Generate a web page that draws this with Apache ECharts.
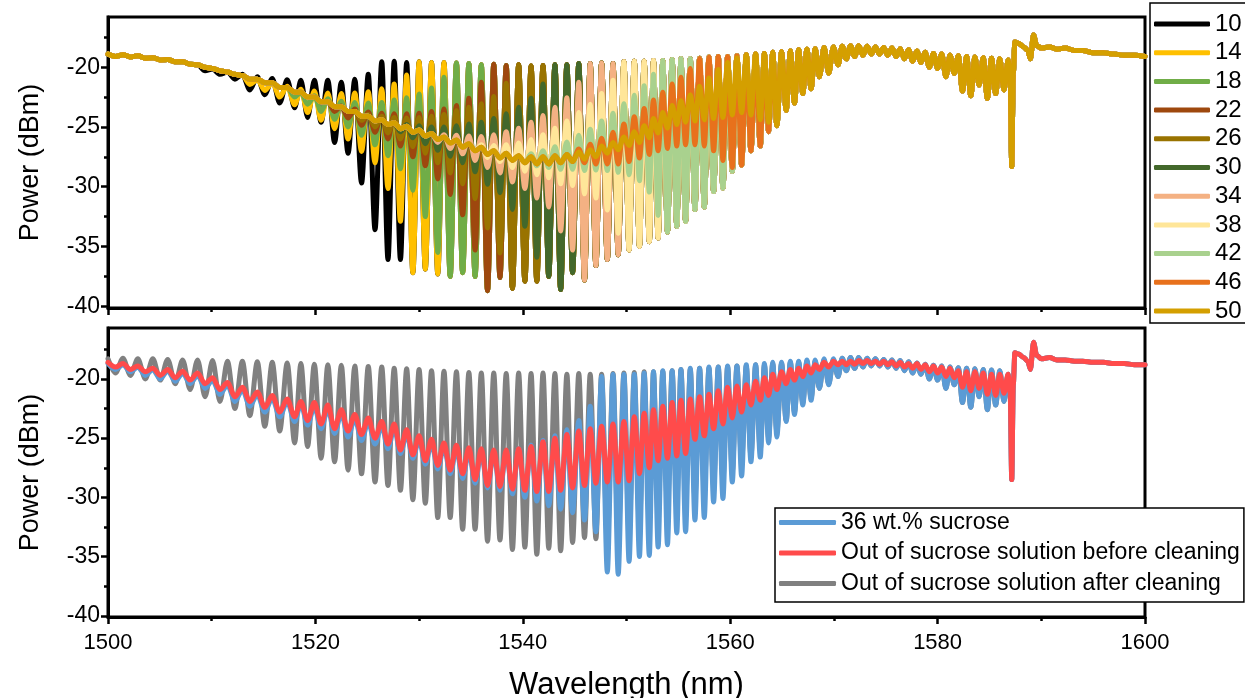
<!DOCTYPE html>
<html>
<head>
<meta charset="utf-8">
<script src="https://cdn.jsdelivr.net/npm/echarts@6/dist/echarts.min.js"></script>
<style>html,body{margin:0;padding:0;background:#fff;}#c{width:1245px;height:698px;}</style>
</head>
<body>
<div id="c"></div>
<script>
// ---- fringe grid (nm): peak and dip wavelengths ----
const peakNm = [1500.0,1501.44,1502.88,1504.32,1505.76,1507.2,1508.64,1510.08,1511.52,1512.96,1514.4,1515.84,1517.28,
1518.6,1519.9,1521.2,1522.5,1523.8,1525.1,1526.4,1527.6,1528.8,1530.0,1531.2,1532.4,1533.6,1534.8,1536.0,1537.2,1538.4,
1539.6,1540.8,1541.95,1543.1,1544.25,1545.4,1546.5,1547.6,1548.7,1549.75,1550.75,1551.7,1552.6,1553.5,1554.4,1555.25,
1556.15,1557.05,1557.95,1558.85,1559.75,1560.65,1561.55,1562.45,1563.3,1564.1,1564.95,1565.8,1566.6,1567.4,1568.2,1569.05,1569.95,
1570.8,1571.6,1572.4,1573.2,1574.0,1574.8,1575.6,1576.4,1577.2,1578.0,1578.8,1579.6,1580.4,1581.2,1582.0,1582.8,1583.6,1584.4,1585.2,1586.0];
const dipNm = [1500.72,1502.16,1503.6,1505.04,1506.48,1507.92,1509.36,1510.8,1512.24,1513.68,1515.12,1516.56,1518.0,
1519.25,1520.55,1521.85,1523.15,1524.45,1525.75,1527.0,1528.2,1529.4,1530.6,1531.8,1533.0,1534.2,1535.4,1536.6,1537.8,1539.0,
1540.2,1541.35,1542.5,1543.65,1544.8,1545.95,1547.05,1548.15,1549.2,1550.25,1551.25,1552.2,1553.05,1553.95,1554.85,1555.7,
1556.6,1557.5,1558.4,1559.3,1560.2,1561.1,1562.0,1562.9,1563.7,1564.5,1565.4,1566.2,1567.0,1567.8,1568.6,1569.5,1570.4,
1571.2,1572.0,1572.8,1573.6,1574.4,1575.2,1576.0,1576.8,1577.6,1578.4,1579.2,1580.0,1580.8,1581.6,1582.4,1583.2,1584.0,1584.8,1585.6,1586.4];
// end of the spectra (nm) and power (dBm)
const endNm = [1586.8,1587.0,1587.15,1587.3,1587.45,1587.8,1588.3,1588.7,1588.95,1589.25,1589.55,1590.0,1590.8,1591.5,1592.3,1593.2,1594.0,1595.0,1596.0,1597.0,1598.0,1599.0,1600.0];
const endTop = [-19.4,-21.0,-28.3,-20.5,-17.9,-18.0,-18.3,-18.6,-19.3,-17.3,-18.2,-18.4,-18.3,-18.5,-18.4,-18.6,-18.6,-18.8,-18.8,-18.9,-19.0,-19.0,-19.1];
const endBot = [-19.6,-21.2,-28.5,-20.5,-17.8,-17.9,-18.2,-18.5,-19.2,-16.9,-18.0,-18.3,-18.2,-18.4,-18.4,-18.5,-18.5,-18.6,-18.6,-18.7,-18.7,-18.8,-18.8];

// common high-contrast fringe levels (fringe 20 onward)
const deepPk = [-19.55,-19.5,-19.6,-19.55,-19.6,-19.6,-19.65,-19.7,-19.8,-19.75,-19.85,-19.8,-19.9,-19.85,-19.8,-19.8,
-19.7,-19.7,-19.65,-19.7,-19.55,-19.5,-19.5,-19.45,-19.45,-19.35,-19.3,-19.3,-19.25,-19.15,-19.1,-19.1,-19.05,
-18.95,-18.9,-18.85,-18.75,-18.7,-18.65,-18.55,-18.5,-18.45,-18.35,-18.3,
-18.25,-18.2,-18.2,-18.25,-18.3,-18.35,-18.4,-18.45,-18.55,-18.65,-18.75,-18.85,-18.9,-19.0,-19.05,-19.1,-19.15,-19.2,-19.25,-19.3];
const deepDp = [-36.1,-36.1,-37.2,-36.9,-37.3,-37.5,-37.2,-37.5,-38.7,-37.6,-38.5,-37.9,-37.9,-37.5,-38.6,-37.2,-37.8,-36.6,
-36.1,-35.7,-35.3,-35.0,-34.6,-34.3,-33.8,-33.3,-32.9,-31.9,-31.7,-30.4,-30.1,-28.7,-28.2,-27.0,-26.6,-25.4,-24.9,-23.6,
-23.0,-22.2,-21.8,-20.8,-20.5,-19.8,
-19.3,-19.1,-19.0,-18.9,-18.9,-19.0,-19.1,-19.3,-19.5,-19.6,-20.0,-20.1,-20.8,-20.5,-22.0,-22.4,-21.5,-22.6,-22.2,-21.9];

// ---- top panel: sucrose concentration series ----
const concentrations = ['10','14','18','22','26','30','34','38','42','46','50'];
const pk50 = [-18.9,-18.95,-19.05,-19.2,-19.35,-19.55,-19.8,-20.1,-20.4,-20.7,-21.0,-21.3,-21.7,-22.1,-22.5,-22.9,-23.3,-23.7,-24.1,-24.4,
-24.65,-24.95,-25.25,-25.55,-25.85,-26.1,-26.4,-26.7,-27.0,-27.2,-27.4,-27.5,-27.5,-27.4,-27.3,-27.1,-26.9,-26.6,-26.3,-25.85,
-25.4,-24.9,-24.3,-23.8,-23.2,-22.8,-22.3,-21.6,-20.9,-20.2,-19.6,-19.2];
const dp50 = [-19.1,-19.15,-19.25,-19.4,-19.55,-19.75,-20.0,-20.3,-20.6,-21.0,-21.3,-21.7,-22.1,-22.5,-22.9,-23.3,-23.7,-24.1,-24.5,-24.8,
-25.15,-25.45,-25.75,-26.05,-26.35,-26.7,-27.0,-27.3,-27.6,-27.8,-28.0,-28.1,-28.1,-28.0,-27.9,-27.7,-27.5,-27.2,-26.9,-26.55,
-26.3,-25.9,-25.5,-25.1,-24.8,-24.6,-24.5,-24.4,-24.3,-24.2,-24.0,-23.8,-24.0,-24.4,-24.6,-24.9];
const pk10 = [-19.8,-20.15,-20.4,-20.6,-20.8,-20.95,-21.05,-21.1,-21.1,-21.1,-21.25,-21.0,-20.6];
const dp10 = [-20.3,-20.6,-21.0,-21.9,-22.3,-23.0,-23.4,-24.2,-24.6,-26.3,-27.2,-29.7,-33.6];
const pk14 = [-21.05,-21.3,-21.6,-21.85,-22.0,-22.15,-22.2,-22.15,-22.05,-21.8,-21.4,-20.65];
const dp14 = [-21.45,-21.95,-22.5,-23.15,-23.8,-24.45,-25.15,-26.0,-27.05,-28.0,-30.15,-32.9];
const pk18 = [-22.1,-22.4,-22.65,-22.85,-22.95,-23.0,-22.95,-22.75,-22.55,-22.25,-21.75,-20.85];
const dp18 = [-22.5,-23.1,-23.7,-24.35,-25.0,-25.7,-26.5,-27.4,-28.5,-30.3,-32.5,-35.5];
const pk22 = [-23.25,-23.5,-23.75,-23.85,-23.9,-23.9,-23.85,-23.7,-23.5,-23.2,-22.6,-21.25];
const dp22 = [-23.7,-24.25,-24.85,-25.45,-26.0,-26.6,-27.5,-28.25,-29.35,-30.65,-32.35,-35.3];
const pk26 = [-23.95,-24.1,-24.2,-24.25,-24.2,-24.1,-23.95,-23.65,-23.35,-23.05,-22.45,-21.35];
const dp26 = [-24.45,-25.0,-25.5,-26.0,-26.65,-27.2,-28.0,-28.85,-29.75,-31.0,-33.45,-35.55];
const pk30 = [-24.8,-24.9,-25.0,-25.0,-24.9,-24.75,-24.6,-24.3,-23.9,-23.35,-22.6,-21.4];
const dp30 = [-25.4,-25.9,-26.4,-26.95,-27.45,-28.0,-28.75,-29.8,-30.5,-31.9,-33.3,-35.9];
const pk34 = [-25.65,-25.7,-25.75,-25.8,-25.65,-25.4,-25.1,-24.6,-24.05,-23.35,-22.55,-21.25];
const dp34 = [-26.3,-26.8,-27.25,-27.8,-28.4,-28.85,-29.6,-30.15,-30.95,-31.7,-33.7,-35.3];
const pk38 = [-26.5,-26.55,-26.5,-26.35,-26.05,-25.65,-25.1,-24.5,-23.8,-23.1,-22.2,-21.1];
const dp38 = [-27.55,-27.9,-28.4,-28.7,-29.0,-29.25,-29.75,-29.9,-30.6,-30.95,-31.95,-33.9];
const pk42 = [-27.25,-27.0,-26.65,-26.25,-25.7,-25.2,-24.5,-23.85,-23.05,-22.35,-21.55,-20.6];
const dp42 = [-28.25,-28.4,-28.55,-28.55,-28.65,-28.6,-28.65,-28.8,-29.0,-29.5,-30.45,-32.4];
const pk46 = [-26.85,-26.45,-25.95,-25.45,-24.75,-24.15,-23.45,-22.75,-22.1,-21.4,-20.85,-20.1];
const dp46 = [-28.0,-28.1,-28.1,-28.1,-27.9,-27.6,-27.3,-27.0,-26.8,-26.6,-26.5,-26.5,-26.6,-27.0,-27.8,-28.4];
const pkLists = [pk10,pk14,pk18,pk22,pk26,pk30,pk34,pk38,pk42,pk46,pk50];
const dpLists = [dp10,dp14,dp18,dp22,dp26,dp30,dp34,dp38,dp42,dp46,dp50];
const pkFirst = [7,11,14,17,19,22,25,28,32,36,1];   // fringe number where each list begins
const dpFirst = [7,10,13,16,18,21,24,28,32,36,1];

// ---- bottom panel ----
const bottomNames = ['36 wt.% sucrose','Out of sucrose solution before cleaning','Out of sucrose solution after cleaning'];
const grayPk = [-18.3,-18.25,-18.3,-18.3,-18.35,-18.4,-18.4,-18.45,-18.5,-18.5,-18.55,-18.6,-18.65,-18.7,-18.75,-18.8,-18.85,-18.9,-18.95,-19.0,
-19.1,-19.15,-19.2,-19.3,-19.35,-19.4,-19.45,-19.5,-19.5,-19.55,-19.5,-19.55,-19.5,-19.55,-19.6,-19.55,-19.6,-19.6,-19.55,-19.5,
-19.45,-19.4,-19.4,-19.35,-19.3,-19.2,-19.2,-19.1,-19.1,-19.0,-19.0,-18.9,-18.9,-18.8,-18.8,-18.7,-18.7,-18.6,-18.6,-18.5,-18.5,-18.4,-18.4];
const grayDp = [-19.5,-19.7,-20.0,-20.1,-20.4,-20.9,-21.5,-21.9,-22.5,-23.1,-24.0,-24.4,-25.4,-25.7,-26.7,-27.0,-27.7,-28.0,-28.7,-29.0,
-29.4,-30.2,-30.5,-31.7,-31.7,-32.7,-32.7,-33.7,-33.6,-34.4,-34.2,-34.8,-34.3,-34.5,-33.8,-33.4,-33.5,-33.6,-33.5,-33.0,
-32.5,-32.0,-31.5,-31.0,-30.5,-30.2,-30.0,-29.5,-29.0,-28.5,-27.8,-27.0,-26.5,-26.0,-25.0,-24.5,-23.5,-22.8,-22.0,-21.6,-20.8,-20.4,-19.8];
const bluePk = [-18.7,-18.8,-19.0,-19.2,-19.3,-19.5,-19.7,-20.1,-20.5,-20.9,-21.3,-21.6,-21.9,-22.1,-22.3,-22.5,-22.9,-23.3,-23.6,-23.9,
-24.1,-24.6,-25.1,-25.4,-25.7,-25.9,-26.1,-26.2,-26.2,-26.1,-25.9,-25.6,-25.2,-24.8,-24.3,-23.5,-22.3,-19.8,-19.6,-19.6,
-19.6,-19.5,-19.4,-19.3,-19.3,-19.2,-19.1,-19.1,-19.0,-19.0,-18.9,-18.9,-18.8,-18.8,-18.7,-18.6,-18.6,-18.5,-18.5,-18.4,-18.4,-18.3,-18.3];
const blueDp = [-19.2,-19.4,-19.7,-20.0,-20.2,-20.4,-20.8,-21.3,-21.9,-22.3,-22.8,-23.2,-23.6,-23.9,-24.2,-24.6,-24.9,-25.2,-25.5,-25.9,
-26.3,-26.7,-27.2,-27.6,-28.0,-28.4,-28.8,-29.2,-29.4,-29.7,-30.0,-30.3,-30.7,-31.0,-31.3,-31.9,-32.9,-36.3,-36.5,-35.4,
-35.0,-34.9,-34.2,-34.0,-33.0];
const redPk = [-18.6,-18.7,-18.9,-19.1,-19.2,-19.35,-19.5,-19.9,-20.3,-20.7,-21.1,-21.4,-21.7,-21.9,-22.0,-22.2,-22.6,-23.0,-23.3,-23.6,
-23.8,-24.3,-24.8,-25.1,-25.4,-25.6,-25.8,-25.9,-26.0,-26.0,-25.9,-25.7,-25.3,-25.0,-24.7,-24.4,-24.2,-24.0,-23.8,-23.6,
-23.2,-22.9,-22.6,-22.3,-22.0,-21.8,-21.7,-21.5,-21.3,-21.0,-20.7,-20.6,-20.5,-20.2,-19.9,-19.6,-19.4,-19.2,-19.1,-18.9,-18.8,-18.6,-18.5,
-18.5,-18.5,-18.45,-18.45,-18.5,-18.5,-18.55,-18.6,-18.7,-18.7,-18.8,-18.9,-19.0,-19.1,-19.3,-19.4,-19.4,-19.5,-19.6,-19.6];
const redDp = [-19.0,-19.2,-19.4,-19.7,-19.9,-20.1,-20.4,-20.9,-21.5,-21.9,-22.4,-22.8,-23.2,-23.5,-23.8,-24.2,-24.4,-24.7,-25.0,-25.5,
-26.0,-26.4,-26.9,-27.3,-27.7,-28.0,-28.5,-29.0,-29.1,-29.3,-29.4,-29.5,-29.5,-29.4,-29.2,-29.0,-28.8,-28.7,-28.7,-28.6,
-28.0,-27.5,-26.9,-26.7,-26.5,-26.3,-25.1,-24.8,-24.2,-23.8,-23.3,-22.8,-22.2,-21.8,-21.4,-20.9,-20.4,-20.1,-19.8,-19.5,-19.2,-19.0,-18.8,
-18.8,-18.75,-18.7,-18.7,-18.75,-18.8,-18.9,-19.0,-19.1,-19.2,-19.4,-19.5,-19.8,-19.9,-20.7,-21.0,-20.8,-21.3,-21.4,-21.2];

const yTicks = [-40,-35,-30,-25,-20];
const yMinorTicks = [-37.5,-32.5,-27.5,-22.5,-17.5];
const xTicks = [1500,1520,1540,1560,1580,1600];

// ---- build point lists from the arrays ----
function build(pkList, pkFrom, dpList, dpFrom, tail) {
  const pts = [];
  for (let i = 0; i < peakNm.length; i++) {
    const j = i + 1;
    let pk, dp;
    if (j < pkFrom) pk = pk50[i];
    else if (j - pkFrom < pkList.length) pk = pkList[j - pkFrom];
    else pk = deepPk[j - 20];
    if (j < dpFrom) dp = dp50[i];
    else if (j - dpFrom < dpList.length) dp = dpList[j - dpFrom];
    else dp = deepDp[j - 20];
    pts.push([peakNm[i], pk], [dipNm[i], dp]);
  }
  tail.forEach((v, k) => pts.push([endNm[k], v]));
  return pts;
}

const FONT = 'Liberation Sans, Arial, Helvetica, sans-serif';
const topColors = ['#000000','#FFC000','#70AD47','#9E480E','#997300','#43682B','#F4B183','#FFE699','#A9D18E','#E8711C','#D49F00'];
const botColors = {blue:'#5B9BD5', red:'#FF4B4B', gray:'#808080'};
const LW = 5;

function lineSeries(name, color, axisIdx, data) {
  return {
    name, type:'line', xAxisIndex:axisIdx, yAxisIndex:axisIdx * 2, symbol:'none', showSymbol:false, silent:true,
    animation:false, clip:true, smooth:0.3, smoothMonotone:'x',
    lineStyle:{width:LW, color, cap:'round', join:'round'},
    itemStyle:{color}, data
  };
}
const series = [];
concentrations.forEach((name, k) => {
  series.push(lineSeries(name, topColors[k], 0, build(pkLists[k], pkFirst[k], dpLists[k], dpFirst[k], endTop)));
});
series.push(lineSeries(bottomNames[2], botColors.gray, 1, build(grayPk,1,grayDp,1,endBot)));
series.push(lineSeries(bottomNames[0], botColors.blue, 1, build(bluePk,1,blueDp,1,endBot)));
series.push(lineSeries(bottomNames[1], botColors.red, 1, build(redPk,1,redDp,1,endBot)));

function xAx(idx, labels) {
  return {
    gridIndex:idx, type:'value', min:xTicks[0], max:xTicks[xTicks.length-1], interval:20,
    axisLine:{show:true, onZero:false, lineStyle:{color:'#000', width:3}},
    axisTick:{show:true, inside:false, length:7, lineStyle:{color:'#000', width:2.5}},
    minorTick:{show:true, splitNumber:2, length:4, lineStyle:{color:'#000', width:2.5}},
    splitLine:{show:false},
    axisLabel:{show:labels, fontSize:22, color:'#000', fontFamily:FONT, margin:15, formatter: v => String(v)},
    name: labels ? 'Wavelength (nm)' : '', nameLocation:'middle', nameGap:53,
    nameTextStyle:{fontSize:31, color:'#000', fontFamily:FONT}
  };
}
function yAx(idx, min, max) {
  return {
    gridIndex:idx, type:'value', min, max, splitNumber:5,
    axisLine:{show:true, onZero:false, lineStyle:{color:'#000', width:3}},
    axisTick:{show:true, inside:false, length:7, customValues:yTicks, lineStyle:{color:'#000', width:2.5}},
    minorTick:{show:false},
    splitLine:{show:false},
    axisLabel:{fontSize:23, color:'#000', fontFamily:FONT, margin:8, customValues:yTicks,
      formatter: v => String(v)},
    name:'Power (dBm)', nameLocation:'middle', nameGap:64,
    nameTextStyle:{fontSize:27, color:'#000', fontFamily:FONT}
  };
}
function yMinor(idx, min, max) {
  return {
    gridIndex:idx, type:'value', min, max, position:'left', offset:0,
    axisLine:{show:false}, splitLine:{show:false}, axisLabel:{show:false},
    axisTick:{show:true, inside:false, length:4, customValues:yMinorTicks, lineStyle:{color:'#000', width:2.5}}
  };
}

const option = {
  backgroundColor:'#fff',
  animation:false,
  textStyle:{fontFamily:FONT},
  grid:[
    {left:108, top:17, width:1037, height:291, show:true, borderColor:'#000', borderWidth:3,
     backgroundColor:'rgba(0,0,0,0)', containLabel:false, outerBoundsMode:'none'},
    {left:108, top:328, width:1037, height:289, show:true, borderColor:'#000', borderWidth:3,
     backgroundColor:'rgba(0,0,0,0)', containLabel:false, outerBoundsMode:'none'}
  ],
  xAxis:[xAx(0,false), xAx(1,true)],
  yAxis:[yAx(0,-40.15,-15.8), yMinor(0,-40.15,-15.8), yAx(1,-40.1,-15.7), yMinor(1,-40.1,-15.7)],
  legend:[
    {data:concentrations, orient:'vertical', left:1150, top:3, padding:[9,6,0,4], itemGap:4.7,
     itemWidth:56, itemHeight:5, icon:'roundRect', textStyle:{fontSize:24, color:'#000', fontFamily:FONT},
     borderColor:'#000', borderWidth:1.5, backgroundColor:'#fff', selectedMode:false},
    {data:bottomNames, orient:'vertical', left:775, top:508, padding:[3,4,7,4], itemGap:7.5,
     itemWidth:57, itemHeight:5, icon:'roundRect', textStyle:{fontSize:23, color:'#000', fontFamily:FONT},
     borderColor:'#000', borderWidth:1.5, backgroundColor:'#fff', selectedMode:false}
  ],
  series
};
const chart = echarts.init(document.getElementById('c'), null, {renderer:'canvas'});
chart.setOption(option);
</script>
</body>
</html>
